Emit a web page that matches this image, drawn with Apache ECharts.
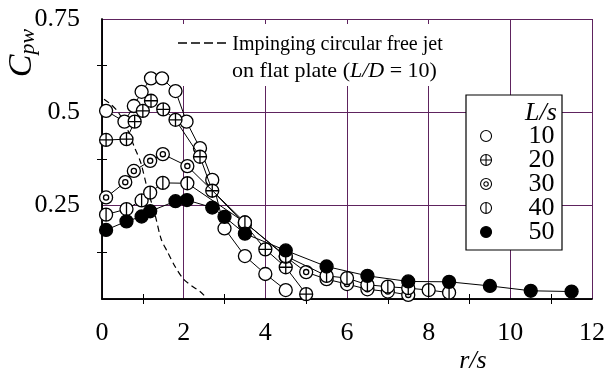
<!DOCTYPE html>
<html><head><meta charset="utf-8">
<script src="https://cdn.jsdelivr.net/npm/echarts@6/dist/echarts.min.js"></script>
<style>html,body{margin:0;padding:0;background:#fff}#c{width:608px;height:377px}</style>
</head><body><div id="c"></div>
<script>
// ---- data ----
const xTicks = [0, 2, 4, 6, 8, 10, 12];
const yTicks = [0.25, 0.5, 0.75];
const seriesNames = ['10', '20', '30', '40', '50'];

const rs10 = [0.1, 0.55, 0.78, 0.97, 1.2, 1.47, 1.8, 2.07, 2.4, 2.7, 3.0, 3.5, 4.0, 4.5];
const cp10 = [0.504, 0.475, 0.517, 0.555, 0.591, 0.591, 0.557, 0.475, 0.404, 0.319, 0.189, 0.115, 0.067, 0.024];

const rs20 = [0.1, 0.6, 0.8, 1.0, 1.2, 1.5, 1.8, 2.4, 2.7, 3.5, 4.0, 4.5, 5.0];
const cp20 = [0.426, 0.428, 0.475, 0.504, 0.531, 0.508, 0.48, 0.381, 0.29, 0.2, 0.133, 0.085, 0.013];

const rs30 = [0.1, 0.57, 0.78, 1.18, 1.49, 2.09, 3.5, 4.5, 5.0, 5.5, 6.0, 6.5, 7.0, 7.5];
const cp30 = [0.272, 0.313, 0.343, 0.37, 0.388, 0.356, 0.205, 0.113, 0.072, 0.053, 0.04, 0.026, 0.02, 0.011];

const rs40 = [0.1, 0.6, 0.97, 1.18, 1.49, 2.09, 3.5, 4.5, 5.5, 6.0, 6.5, 7.0, 7.5, 8.0, 8.5];
const cp40 = [0.226, 0.241, 0.264, 0.285, 0.311, 0.31, 0.205, 0.115, 0.062, 0.056, 0.038, 0.033, 0.029, 0.024, 0.017];

const rs50 = [0.1, 0.6, 0.97, 1.18, 1.8, 2.08, 2.7, 3.0, 3.5, 4.5, 5.5, 6.5, 7.5, 8.5, 9.5, 10.5, 11.5];
const cp50 = [0.185, 0.208, 0.221, 0.235, 0.262, 0.265, 0.245, 0.22, 0.175, 0.13, 0.087, 0.062, 0.047, 0.046, 0.035, 0.022, 0.02];

const rsJet = [0.05, 0.2, 0.4, 0.6, 0.8, 0.95, 1.1, 1.3, 1.45, 1.6, 1.8, 2.0, 2.2, 2.4, 2.55];
const cpJet = [0.535, 0.523, 0.5, 0.46, 0.405, 0.365, 0.3, 0.225, 0.16, 0.127, 0.085, 0.053, 0.035, 0.02, 0.004];

// ---- symbols ----
function circ(r) {
  const k = 0.5523 * r;
  return `M${r},0 C${r},${k} ${k},${r} 0,${r} C${-k},${r} ${-r},${k} ${-r},0 C${-r},${-k} ${-k},${-r} 0,${-r} C${k},${-r} ${r},${-k} ${r},0 Z`;
}
const symOpen = 'circle';
const symCross = 'path://' + circ(10) + ' M-10,0 L10,0 M0,-10 L0,10';
const symDouble = 'path://' + circ(10) + ' ' + circ(4);
const symVert = 'path://' + circ(10) + ' M0,-10 L0,10';
const symFilled = 'circle';
const symbols = [symOpen, symCross, symDouble, symVert, symFilled];
const fills = ['#fff', '#fff', '#fff', '#fff', '#000'];
const xs = [rs10, rs20, rs30, rs40, rs50];
const ys = [cp10, cp20, cp30, cp40, cp50];

const FONT = 'Liberation Serif';
const GRID = '#5e235e';

const series = seriesNames.map((n, i) => ({
  name: n, type: 'line',
  data: xs[i].map((x, j) => [x, ys[i][j]]),
  symbol: symbols[i], symbolSize: 13,
  itemStyle: { color: fills[i], borderColor: '#000', borderWidth: 1.3 },
  lineStyle: { color: '#000', width: 1 },
  z: 3 + i, animation: false
}));
series.unshift({
  name: 'jet', type: 'line', smooth: 0.3, showSymbol: false, symbol: 'none',
  data: rsJet.map((x, j) => [x, cpJet[j]]),
  lineStyle: { color: '#000', width: 1.2, type: [6, 4] }, z: 2, animation: false
});

const axCommon = {
  type: 'value',
  axisLine: { show: true, lineStyle: { color: '#000', width: 1.5 } },
  axisTick: { show: false, inside: true },
  minorTick: { show: true, splitNumber: 2, length: 5, lineStyle: { color: '#000', width: 1 } },
  minorSplitLine: { show: false }
};

const option = {
  animation: false,
  grid: { left: 102, right: 16, top: 19, bottom: 78, containLabel: false, outerBoundsMode: 'none' },
  xAxis: [
    Object.assign({}, axCommon, {
      position: 'bottom', min: 0, max: 12, interval: 2,
      axisLabel: { margin: 21, fontFamily: FONT, fontSize: 26, color: '#000',
        formatter: v => xTicks.includes(v) ? String(v) : '' },
      splitLine: { show: true, lineStyle: { color: GRID, width: 1 } }
    }),
    Object.assign({}, axCommon, {
      position: 'top', min: 0, max: 12, interval: 2,
      axisLabel: { show: false }, splitLine: { show: false }
    })
  ],
  yAxis: [
    Object.assign({}, axCommon, {
      position: 'left', min: 0, max: 0.75, interval: 0.25,
      name: '{c|C}{s|pw}', nameLocation: 'middle', nameRotate: 90, nameGap: 63, nameMoveOverlap: false,
      nameTextStyle: {
        padding: [0, 0, 0, 212],
        rich: {
          c: { fontFamily: FONT, fontSize: 34, fontStyle: 'italic', color: '#000', verticalAlign: 'bottom', lineHeight: 34 },
          s: { fontFamily: FONT, fontSize: 22, fontStyle: 'italic', color: '#000', verticalAlign: 'bottom', lineHeight: 16 }
        }
      },
      axisLabel: { margin: 22, fontFamily: FONT, fontSize: 26, color: '#000',
        formatter: v => yTicks.some(t => Math.abs(t - v) < 1e-9) ? String(v) : '' },
      splitLine: { show: true, lineStyle: { color: GRID, width: 1 } }
    }),
    Object.assign({}, axCommon, {
      position: 'right', min: 0, max: 0.75, interval: 0.25,
      axisLabel: { show: false }, splitLine: { show: false }
    })
  ],
  legend: {
    orient: 'vertical', left: 480, top: 123,
    padding: 0,
    itemWidth: 11, itemHeight: 11, itemGap: -2,
    selectedMode: false,
    textStyle: { fontFamily: FONT, fontSize: 26, color: '#000', padding: [0, 0, 0, 32] },
    data: seriesNames.map((n, i) => ({
      name: n, icon: symbols[i],
      itemStyle: { color: fills[i], borderColor: '#000', borderWidth: 1.1 }
    })),
    z: 6
  },
  graphic: [
    { type: 'rect', shape: { x: 168, y: 24, width: 282, height: 62 }, style: { fill: '#fff' }, z: 1, silent: true },
    { type: 'rect', shape: { x: 466, y: 95, width: 96, height: 155 }, style: { fill: '#fff', stroke: '#000', lineWidth: 1.2 }, z: 1, silent: true },
    { type: 'line', shape: { x1: 178, y1: 43, x2: 228, y2: 43 }, style: { stroke: '#000', lineWidth: 1.5, lineDash: [9, 4] }, z: 10 },
    { type: 'text', x: 337.5, y: 45, z: 10,
      style: { text: 'Impinging circular free jet', font: `20px "${FONT}"`, fill: '#000', textAlign: 'center', textVerticalAlign: 'middle' } },
    { type: 'text', x: 334.5, y: 71, z: 10,
      style: { text: '{n|on flat plate (}{i|L/D}{n| = 10)}', fill: '#000', textAlign: 'center', textVerticalAlign: 'middle',
        rich: { n: { fontFamily: FONT, fontSize: 22, color: '#000' }, i: { fontFamily: FONT, fontSize: 22, fontStyle: 'italic', color: '#000' } } } },
    { type: 'text', x: 541, y: 113, z: 10,
      style: { text: 'L/s', font: `italic 26px "${FONT}"`, fill: '#000', textAlign: 'center', textVerticalAlign: 'middle' } },
    { type: 'text', x: 473, y: 361, z: 10,
      style: { text: 'r/s', font: `italic 26px "${FONT}"`, fill: '#000', textAlign: 'center', textVerticalAlign: 'middle' } }
  ],
  series: series
};
const chart = echarts.init(document.getElementById('c'), null, { renderer: 'canvas' });
chart.setOption(option);
</script>
</body></html>
